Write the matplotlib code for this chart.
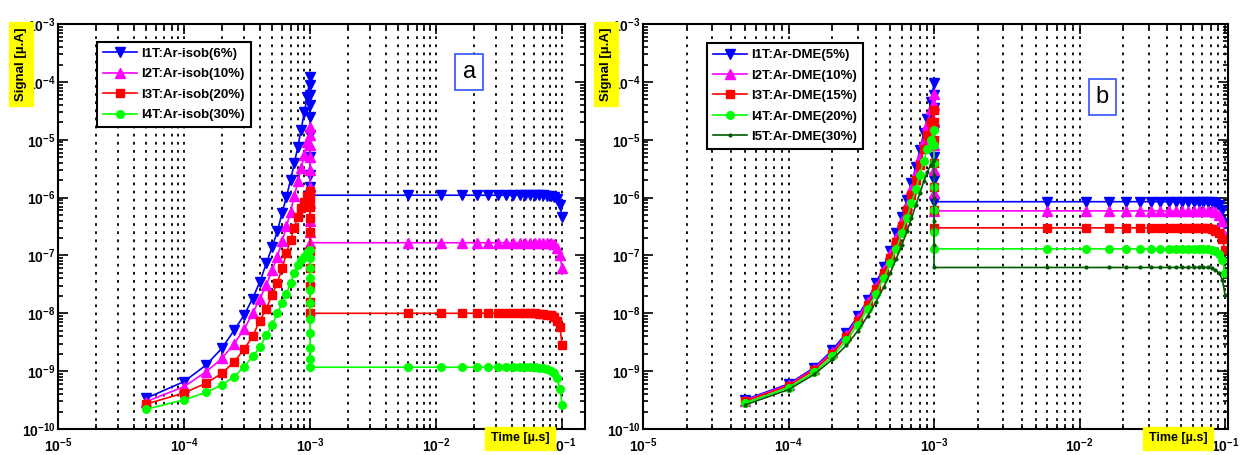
import matplotlib
matplotlib.use('Agg')
import matplotlib.pyplot as plt
import matplotlib.ticker as mticker

plt.rcParams['font.family'] = ['Liberation Sans', 'DejaVu Sans']
plt.rcParams['font.weight'] = 'bold'
plt.rcParams['mathtext.fontset'] = 'custom'
plt.rcParams['mathtext.bf'] = 'Liberation Sans:bold'
plt.rcParams['mathtext.rm'] = 'Liberation Sans:bold'

# time grid (micro s)
t_rise = [5e-5, 1e-4, 1.5e-4, 2e-4, 2.5e-4, 3e-4, 3.5e-4, 4e-4, 4.5e-4, 5e-4,
          5.5e-4, 6e-4, 6.5e-4, 7e-4, 7.5e-4, 8e-4, 8.5e-4, 9e-4, 9.5e-4, 1e-3]
t_peak = 1e-3
t_flat = [0.001, 0.006, 0.011, 0.016, 0.021, 0.026, 0.031, 0.036, 0.041, 0.046,
          0.051, 0.056, 0.061, 0.066, 0.071, 0.076, 0.081, 0.086, 0.091, 0.096, 0.1]

#---- panel a : Ar-isobutane
a_labels = ['I1T:Ar-isob(6%)', 'I2T:Ar-isob(10%)', 'I3T:Ar-isob(20%)', 'I4T:Ar-isob(30%)']
a_rise = [
    [3.4e-10, 6.6e-10, 1.28e-9, 2.5e-9, 5.1e-9, 9.3e-9, 1.8e-8, 3.5e-8, 7.3e-8, 1.4e-7,
     2.6e-7, 5.4e-7, 1.04e-6, 2e-6, 3.9e-6, 7.6e-6, 1.5e-5, 3e-5, 5.5e-5, 1.2e-4],
    [2.97e-10, 5.4e-10, 9.8e-10, 1.66e-9, 3.0e-9, 5.3e-9, 1e-8, 1.8e-8, 3.1e-8, 5.5e-8,
     9.5e-8, 1.75e-7, 3.2e-7, 5.7e-7, 1.05e-6, 1.9e-6, 3.2e-6, 5.5e-6, 9.3e-6, 1.65e-5],
    [2.7e-10, 4.2e-10, 6.2e-10, 9.2e-10, 1.45e-9, 2.4e-9, 4e-9, 7.5e-9, 1.2e-8, 2.1e-8,
     3.4e-8, 6e-8, 1.1e-7, 1.85e-7, 3e-7, 4.7e-7, 6.5e-7, 8.5e-7, 1.05e-6, 1.3e-6],
    [2.2e-10, 3.2e-10, 4.3e-10, 5.8e-10, 8e-10, 1.2e-9, 1.8e-9, 2.6e-9, 4.2e-9, 6.3e-9,
     1e-8, 1.5e-8, 2.2e-8, 3.3e-8, 5e-8, 6.8e-8, 8.3e-8, 9.5e-8, 1.1e-7, 1.25e-7],
]
a_drop = [
    [9e-5, 6e-5, 4e-5, 2.5e-5, 1.2e-5, 5e-6, 2.5e-6, 1.5e-6],
    [1.2e-5, 8e-6, 5e-6, 3e-6, 1.5e-6, 8e-7, 4e-7, 2.5e-7],
    [1e-6, 7e-7, 4.5e-7, 2.5e-7, 1.2e-7, 6e-8, 3e-8, 1.6e-8],
    [9e-8, 6e-8, 4e-8, 2.5e-8, 1.5e-8, 8e-9, 4.5e-9, 2.5e-9, 1.6e-9],
]
a_flat = [
    [1.1e-6] * 15 + [1.08e-6, 1.06e-6, 1.03e-6, 9.3e-7, 7.6e-7, 4.6e-7],
    [1.66e-7] * 16 + [1.63e-7, 1.55e-7, 1.35e-7, 1.0e-7, 6e-8],
    [1e-8] * 13 + [9.9e-9, 9.7e-9, 9.5e-9, 9.2e-9, 8.5e-9, 7.5e-9, 5.8e-9, 2.8e-9],
    [1.17e-9] * 13 + [1.15e-9, 1.12e-9, 1.08e-9, 1.02e-9, 9.2e-10, 7.6e-10, 5e-10, 2.6e-10],
]

#---- panel b : Ar-DME
b_labels = ['I1T:Ar-DME(5%)', 'I2T:Ar-DME(10%)', 'I3T:Ar-DME(15%)', 'I4T:Ar-DME(20%)', 'I5T:Ar-DME(30%)']
b_rise = [
    [3.2e-10, 6.0e-10, 1.15e-9, 2.3e-9, 4.6e-9, 9e-9, 1.7e-8, 3.3e-8, 6.4e-8, 1.2e-7,
     2.4e-7, 4.7e-7, 9e-7, 1.8e-6, 3.4e-6, 6.6e-6, 1.3e-5, 2.3e-5, 4.5e-5, 9.4e-5],
    [3.1e-10, 5.8e-10, 1.1e-9, 2.15e-9, 4.2e-9, 8.2e-9, 1.55e-8, 2.9e-8, 5.6e-8, 1.05e-7,
     2.0e-7, 3.9e-7, 7.4e-7, 1.4e-6, 2.7e-6, 5.1e-6, 9.6e-6, 1.8e-5, 3.4e-5, 6.3e-5],
    [3.0e-10, 5.6e-10, 1.05e-9, 2.0e-9, 3.9e-9, 7.4e-9, 1.4e-8, 2.6e-8, 4.9e-8, 9.0e-8,
     1.7e-7, 3.2e-7, 6e-7, 1.1e-6, 2.0e-6, 3.7e-6, 6.8e-6, 1.2e-5, 2.0e-5, 3.3e-5],
    [2.8e-10, 5.2e-10, 9.6e-10, 1.8e-9, 3.4e-9, 6.4e-9, 1.2e-8, 2.2e-8, 4.0e-8, 7.3e-8,
     1.3e-7, 2.4e-7, 4.4e-7, 8e-7, 1.4e-6, 2.5e-6, 4.3e-6, 7e-6, 1.0e-5, 1.45e-5],
    [2.6e-10, 4.8e-10, 8.8e-10, 1.6e-9, 2.8e-9, 5e-9, 9e-9, 1.6e-8, 2.8e-8, 5e-8,
     8.8e-8, 1.5e-7, 2.6e-7, 4.4e-7, 7.4e-7, 1.2e-6, 1.9e-6, 2.8e-6, 3.7e-6, 4.5e-6],
]
b_drop = [
    [6e-5, 3.5e-5, 1.5e-5, 5e-6, 2e-6],
    [4e-5, 2e-5, 8e-6, 3e-6, 1.2e-6],
    [2e-5, 1e-5, 4e-6, 1.5e-6, 6e-7],
    [8e-6, 4e-6, 1.5e-6, 6e-7, 2.5e-7],
    [2.5e-6, 1e-6, 4e-7, 1.5e-7],
]
b_flat = [
    [8.5e-7] * 17 + [8.2e-7, 7.6e-7, 6.2e-7, 3.6e-7],
    [5.9e-7] * 17 + [5.6e-7, 5e-7, 4e-7, 2.2e-7],
    [3e-7] * 16 + [2.85e-7, 2.7e-7, 2.4e-7, 1.9e-7, 1.25e-7],
    [1.3e-7] * 16 + [1.25e-7, 1.18e-7, 1.05e-7, 8.5e-8, 5e-8],
    [6.2e-8] * 16 + [6e-8, 5.6e-8, 5e-8, 3.8e-8, 2.1e-8],
]

colors = ['#0000ff', '#ff00ff', '#ff0000', '#00ff00', '#005a00']
markers = ['v', '^', 's', 'o', '.']
msizes = [6.5, 6.5, 5.5, 5.5, 4]

xtick_vals = [1e-5, 1e-4, 1e-3, 1e-2, 1e-1]
xtick_labels = [r'$\mathbf{10^{-5}}$', r'$\mathbf{10^{-4}}$', r'$\mathbf{10^{-3}}$',
                r'$\mathbf{10^{-2}}$', r'$\mathbf{10^{-1}}$']
ytick_vals = [1e-10, 1e-9, 1e-8, 1e-7, 1e-6, 1e-5, 1e-4, 1e-3]
ytick_labels = [r'$\mathbf{10^{-%d}}$' % k for k in range(10, 2, -1)]

fig = plt.figure(figsize=(12.44, 4.55), dpi=100)
ax_a = fig.add_axes([0.0466, 0.0571, 0.4237, 0.890])
ax_b = fig.add_axes([0.5169, 0.0571, 0.4703, 0.890])


def draw_panel(ax, rise, drop, flat, labels, xmax, leg_anchor):
    for i in range(len(labels)):
        xs = t_rise + [t_peak] * len(drop[i]) + t_flat
        ys = rise[i] + drop[i] + flat[i]
        ax.plot(xs, ys, color=colors[i], marker=markers[i], markersize=msizes[i],
                linewidth=1.2, label=labels[i])
    ax.set_xscale('log')
    ax.set_yscale('log')
    ax.set_xlim(1e-5, xmax)
    ax.set_ylim(1e-10, 1e-3)
    ax.set_xticks(xtick_vals)
    ax.set_xticklabels(xtick_labels, fontsize=10)
    ax.set_yticks(ytick_vals)
    ax.set_yticklabels(ytick_labels, fontsize=10)
    ax.xaxis.set_minor_locator(mticker.LogLocator(base=10, subs=range(2, 10), numticks=20))
    ax.yaxis.set_minor_locator(mticker.LogLocator(base=10, subs=range(2, 10), numticks=20))
    ax.xaxis.set_minor_formatter(mticker.NullFormatter())
    ax.yaxis.set_minor_formatter(mticker.NullFormatter())
    ax.tick_params(which='both', direction='in', top=True, right=True, width=1.2)
    ax.tick_params(which='major', length=7)
    ax.tick_params(axis='y', which='major', pad=2)
    ax.tick_params(axis='x', which='major', pad=5)
    ax.tick_params(which='minor', length=3.5)
    ax.grid(True, which='both', axis='x', color='k', linestyle=(0, (1.5, 3)), linewidth=1.3)
    for s in ax.spines.values():
        s.set_linewidth(1.5)
    leg = ax.legend(loc='upper left', bbox_to_anchor=leg_anchor, fancybox=False,
                    framealpha=1, edgecolor='k', prop={'weight': 'bold', 'size': 9.5},
                    handlelength=2.6, borderpad=0.45, labelspacing=0.62, handletextpad=0.3,
                    borderaxespad=0)
    leg.get_frame().set_linewidth(1.5)


draw_panel(ax_a, a_rise, a_drop, a_flat, a_labels, 0.152, (0.074, 0.956))
draw_panel(ax_b, b_rise, b_drop, b_flat, b_labels, 0.105, (0.109, 0.953))

# panel tags
ax_a.text(0.78, 0.881, 'a', transform=ax_a.transAxes, fontsize=17, fontweight='normal',
          ha='center', va='center',
          bbox=dict(boxstyle='square,pad=0.3', facecolor='white', edgecolor='#3050ff', linewidth=1.2))
ax_b.text(0.785, 0.82, 'b', transform=ax_b.transAxes, fontsize=17, fontweight='normal',
          ha='center', va='center',
          bbox=dict(boxstyle='square,pad=0.3', facecolor='white', edgecolor='#3050ff', linewidth=1.2))

# axis titles with yellow highlight
for xpos in [21 / 1244, 606 / 1244]:
    fig.text(xpos, 1 - 64 / 455, 'Signal [\u00b5.A]', rotation=90, ha='center', va='center',
             fontsize=9.5, fontweight='bold', backgroundcolor='#ffff00')
for xpos in [520 / 1244, 1178 / 1244]:
    fig.text(xpos, 1 - 438 / 455, 'Time [\u00b5.s]', ha='center', va='center',
             fontsize=9, fontweight='bold', backgroundcolor='#ffff00')

fig.savefig('out.png', dpi=100)
